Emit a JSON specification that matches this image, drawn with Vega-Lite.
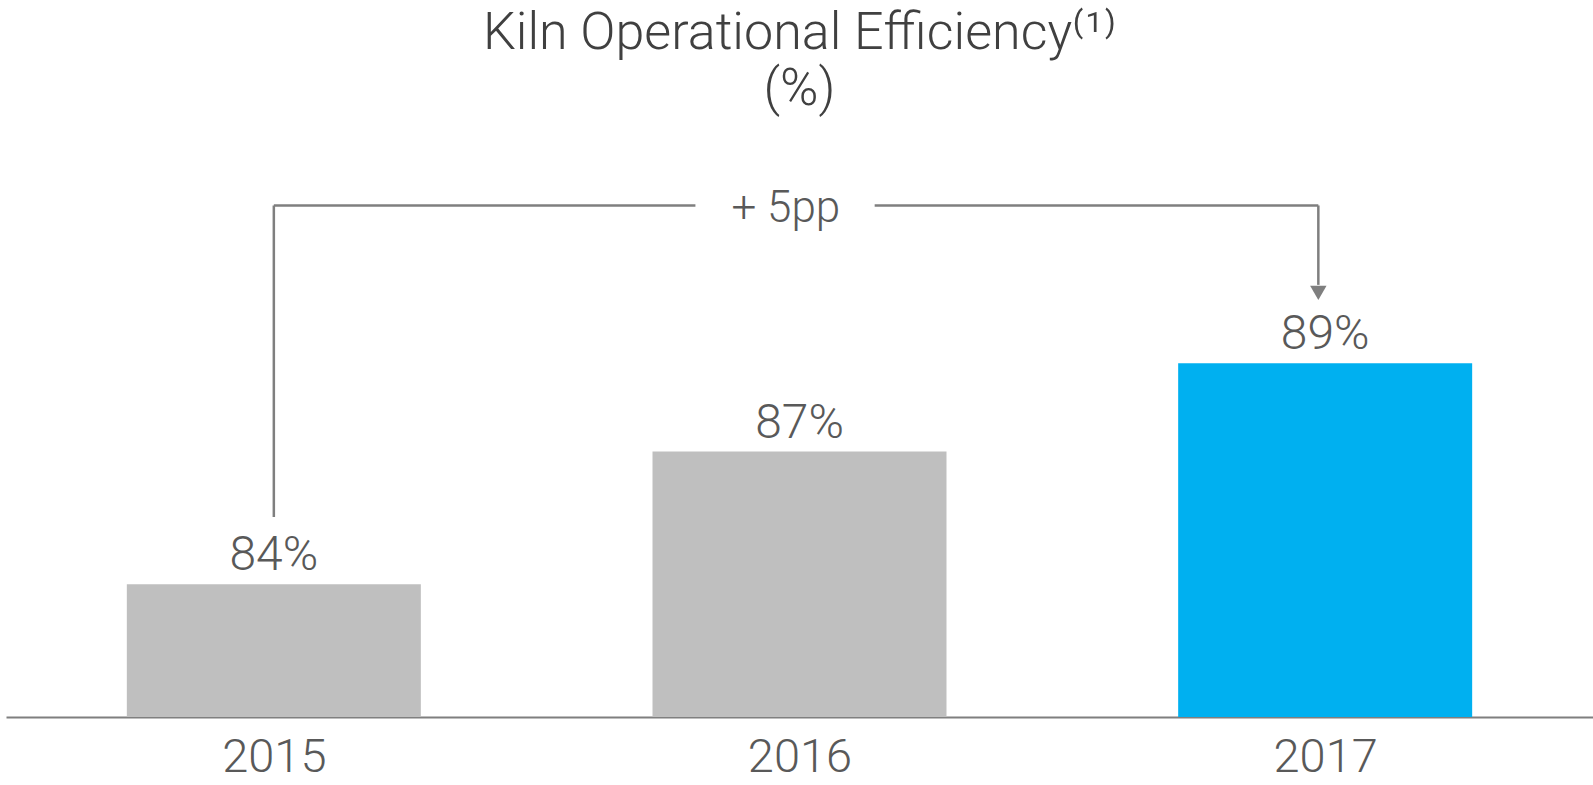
{
  "$schema": "https://vega.github.io/schema/vega-lite/v6.json",
  "autosize": {"type": "none"},
  "width": 1587,
  "height": 575,
  "padding": {"left": 6, "right": 0, "top": 142, "bottom": 68},
  "background": "white",
  "title": {
    "text": ["Kiln Operational Efficiency⁽¹⁾", "(%)"],
    "font": "Roboto Light",
    "fontWeight": 300,
    "fontSize": 52,
    "color": "#404040",
    "lineHeight": 56,
    "anchor": "middle",
    "offset": 26
  },
  "config": {"view": {"stroke": null}},
  "data": {"values": [
    {"year": 2015, "value": 84, "label": "84%"},
    {"year": 2016, "value": 87, "label": "87%"},
    {"year": 2017, "value": 89, "label": "89%"}
  ]},
  "layer": [
    {
      "mark": {"type": "bar", "width": 294},
      "encoding": {
        "x": {"field": "year", "type": "quantitative",
          "scale": {"domain": [2014.5, 2017.5], "nice": false, "zero": false},
          "axis": {"values": [2015, 2016, 2017], "format": "d", "title": null, "grid": false, "ticks": false,
            "domainColor": "#7f7f7f", "domainWidth": 2, "labelFont": "Roboto Light", "labelFontWeight": 300,
            "labelFontSize": 47, "labelColor": "#595959", "labelPadding": 17, "labelFlush": false}},
        "y": {"field": "value", "type": "quantitative",
          "scale": {"domain": [81, 94], "nice": false, "zero": false}, "axis": null},
        "y2": {"datum": 81},
        "color": {"field": "year", "type": "nominal",
          "scale": {"domain": [2015, 2016, 2017], "range": ["#BFBFBF", "#BFBFBF", "#00B0F0"]}, "legend": null}
      }
    },
    {
      "mark": {"type": "text", "font": "Roboto Light", "fontWeight": 300, "fontSize": 48, "color": "#595959", "baseline": "alphabetic", "dy": -14},
      "encoding": {
        "x": {"field": "year", "type": "quantitative"},
        "y": {"field": "value", "type": "quantitative"},
        "text": {"field": "label"}
      }
    },
    {
      "data": {"values": [{"note": "+ 5pp"}]},
      "layer": [
        {
          "mark": {"type": "rule", "color": "#7f7f7f", "strokeWidth": 2.5},
          "encoding": {"x": {"datum": 2015}, "x2": {"datum": 2015.802}, "y": {"datum": 92.565}}
        },
        {
          "mark": {"type": "rule", "color": "#7f7f7f", "strokeWidth": 2.5},
          "encoding": {"x": {"datum": 2016.143}, "x2": {"datum": 2016.987}, "y": {"datum": 92.565}}
        },
        {
          "mark": {"type": "rule", "color": "#7f7f7f", "strokeWidth": 2.5},
          "encoding": {"x": {"datum": 2015}, "y": {"datum": 92.565}, "y2": {"datum": 85.52}}
        },
        {
          "mark": {"type": "rule", "color": "#7f7f7f", "strokeWidth": 2.5},
          "encoding": {"x": {"datum": 2016.987}, "y": {"datum": 92.565}, "y2": {"datum": 90.77}}
        },
        {
          "mark": {"type": "point", "shape": "triangle-down", "filled": true, "size": 270, "color": "#7f7f7f", "opacity": 1},
          "encoding": {"x": {"datum": 2016.987}, "y": {"datum": 90.59}}
        },
        {
          "mark": {"type": "text", "font": "Roboto Light", "fontWeight": 300, "fontSize": 44, "color": "#595959", "baseline": "alphabetic", "dy": 17},
          "encoding": {"x": {"datum": 2015.974}, "y": {"datum": 92.565}, "text": {"field": "note"}}
        }
      ]
    }
  ]
}
